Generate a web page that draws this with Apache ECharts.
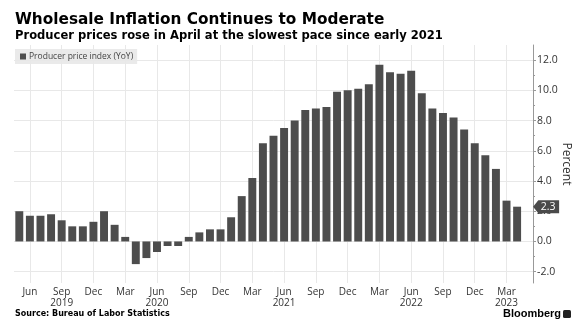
<!DOCTYPE html>
<html>
<head>
<meta charset="utf-8">
<script src="https://cdn.jsdelivr.net/npm/echarts@6/dist/echarts.min.js"></script>
<style>
html,body{margin:0;padding:0;background:#fff;}
#chart{width:579px;height:332px;}
</style>
</head>
<body>
<div id="chart"></div>
<script>
// Months (May 2019 - Apr 2023)
const categories = [
  '2019-05','2019-06','2019-07','2019-08','2019-09','2019-10','2019-11','2019-12',
  '2020-01','2020-02','2020-03','2020-04','2020-05','2020-06','2020-07','2020-08','2020-09','2020-10','2020-11','2020-12',
  '2021-01','2021-02','2021-03','2021-04','2021-05','2021-06','2021-07','2021-08','2021-09','2021-10','2021-11','2021-12',
  '2022-01','2022-02','2022-03','2022-04','2022-05','2022-06','2022-07','2022-08','2022-09','2022-10','2022-11','2022-12',
  '2023-01','2023-02','2023-03','2023-04'
];
// Producer price index, YoY %
const ppiYoY = [
  2.0, 1.7, 1.7, 1.8, 1.4, 1.0, 1.0, 1.3,
  2.0, 1.1, 0.3, -1.5, -1.1, -0.7, -0.3, -0.3, 0.3, 0.6, 0.8, 0.8,
  1.6, 3.0, 4.2, 6.5, 7.0, 7.5, 8.0, 8.7, 8.8, 8.9, 9.9, 10.0,
  10.1, 10.4, 11.7, 11.2, 11.1, 11.3, 9.8, 8.8, 8.5, 8.2, 7.4, 6.5,
  5.7, 4.8, 2.7, 2.3
];
const monthNames = ['Jan','Feb','Mar','Apr','May','Jun','Jul','Aug','Sep','Oct','Nov','Dec'];
const labeledMonths = ['Mar','Jun','Sep','Dec'];
const yearLabelAt = ['2019-09','2020-06','2021-06','2022-06','2023-03'];
const yearLabelText = ['2019','2020','2021','2022','2023'];
const yMajorTicks = [-2, 0, 2, 4, 6, 8, 10, 12];
const yMinorTicks = [-1, 1, 3, 5, 7, 9, 11];

const monthOf = c => monthNames[parseInt(c.slice(5), 10) - 1];
const showTick = (i) => i < categories.length && labeledMonths.indexOf(monthOf(categories[i])) >= 0;

const lastVal = ppiYoY[ppiYoY.length - 1];
const GRID = '#e8e8e8';
const FONT = 'DejaVu Sans';
const LFONT = 'Open Sans';

const chart = echarts.init(document.getElementById('chart'), null, {renderer: 'canvas'});
chart.setOption({
  animation: false,
  backgroundColor: '#fff',
  title: [
    {text: 'Wholesale Inflation Continues to Moderate', left: 15, top: 13, padding: 0,
     textStyle: {fontFamily: FONT, fontWeight: 'bold', fontSize: 15.3, color: '#000'}},
    {text: 'Producer prices rose in April at the slowest pace since early 2021', left: 15, top: 30, padding: 0,
     textStyle: {fontFamily: FONT, fontWeight: 'bold', fontSize: 11.55, color: '#000'}},
    {text: 'Source: Bureau of Labor Statistics', left: 15, top: 310, padding: 0,
     textStyle: {fontFamily: FONT, fontWeight: 'bold', fontSize: 8, color: '#000'}},
    {text: 'Bloomberg', left: 503, top: 308, padding: 0,
     textStyle: {fontFamily: 'Liberation Sans', fontWeight: 'bold', fontSize: 11, color: '#000'}}
  ],
  graphic: [
    {type: 'rect', left: 563, top: 310, shape: {width: 8, height: 8, r: 1.5}, style: {fill: '#222'}}
  ],
  legend: {
    left: 15, top: 49, padding: [3, 4, 3, 5],
    backgroundColor: 'rgba(232,232,232,0.9)',
    icon: 'rect', itemWidth: 6, itemHeight: 6, itemGap: 4,
    textStyle: {fontFamily: LFONT, fontSize: 8.5, color: '#444', padding: [0, 0, 0, -2]},
    data: ['Producer price index (YoY)']
  },
  grid: {left: 14, right: 46, top: 45, bottom: 49, containLabel: false, outerBoundsMode: 'none'},
  xAxis: {
    type: 'category',
    data: categories,
    max: categories.length,
    axisLine: {show: false},
    axisTick: {show: true, length: 4, alignWithLabel: true, interval: showTick, lineStyle: {color: GRID}},
    splitLine: {show: true, alignWithLabel: true, interval: showTick, lineStyle: {color: GRID, width: 1}},
    axisLabel: {
      interval: showTick,
      margin: 4,
      fontFamily: LFONT, fontSize: 10, color: '#333', lineHeight: 11,
      formatter: (c) => {
        if (!c) return '';
        const k = yearLabelAt.indexOf(c);
        return monthOf(c) + (k >= 0 ? '\n' + yearLabelText[k] : '');
      }
    }
  },
  yAxis: [
    {
      type: 'value', position: 'right', min: -2.75, max: 13,
      name: 'Percent', nameLocation: 'middle', nameRotate: -90, nameGap: 27, nameMoveOverlap: false,
      nameTextStyle: {fontFamily: LFONT, fontSize: 12, color: '#333'},
      axisLine: {show: true, lineStyle: {color: '#999'}},
      axisTick: {show: true, inside: false, length: 3, customValues: yMajorTicks, lineStyle: {color: '#999'}},
      axisLabel: {customValues: yMajorTicks, margin: 4, fontFamily: LFONT, fontSize: 10.5, color: '#333',
                  formatter: v => v.toFixed(1)},
      splitLine: {show: true, lineStyle: {color: GRID, width: 1}}
    },
    {
      type: 'value', position: 'right', min: -2.75, max: 13,
      axisLine: {show: false},
      axisTick: {show: true, length: 2, customValues: yMinorTicks, lineStyle: {color: '#999'}},
      axisLabel: {show: false},
      splitLine: {show: false}
    }
  ],
  series: [{
    name: 'Producer price index (YoY)',
    type: 'bar',
    data: ppiYoY,
    barCategoryGap: '25%',
    itemStyle: {color: '#4d4d4d'},
    markPoint: {
      symbol: 'path://M0,7L6,0L30,0L30,14L6,14Z',
      symbolSize: [26, 13],
      symbolKeepAspect: false,
      symbolOffset: [29, 0],
      itemStyle: {color: '#4a4a4a'},
      label: {show: true, color: '#fff', fontFamily: LFONT, fontSize: 10.5, offset: [2, 0],
              formatter: () => lastVal.toFixed(1)},
      data: [{coord: [categories[categories.length - 1], lastVal]}]
    }
  }]
});
</script>
</body>
</html>
